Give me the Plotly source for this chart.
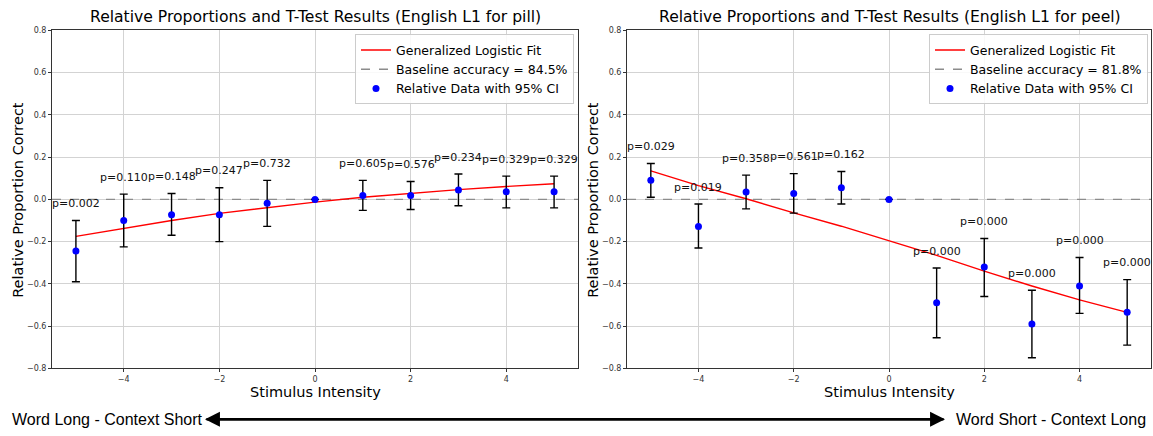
import plotly.graph_objs as go

# stimulus levels shared by both panels
stimulus = [-5, -4, -3, -2, -1, 0, 1, 2, 3, 4, 5]

# English L1 for "pill"
pill_rel = [-0.245, -0.100, -0.073, -0.073, -0.018, 0.0, 0.018, 0.018, 0.045, 0.036, 0.036]
pill_ci_low = [-0.390, -0.225, -0.170, -0.200, -0.128, None, -0.052, -0.048, -0.030, -0.040, -0.040]
pill_ci_high = [-0.100, 0.025, 0.028, 0.055, 0.090, None, 0.090, 0.085, 0.120, 0.110, 0.110]
pill_fit = [-0.175, -0.137, -0.100, -0.066, -0.038, -0.013, 0.010, 0.029, 0.046, 0.061, 0.074]
pill_p = ['0.002', '0.110', '0.148', '0.247', '0.732', None, '0.605', '0.576', '0.234', '0.329', '0.329']
pill_baseline = 84.5

# English L1 for "peel"
peel_rel = [0.090, -0.128, 0.035, 0.028, 0.055, 0.0, -0.490, -0.320, -0.590, -0.410, -0.535]
peel_ci_low = [0.010, -0.230, -0.045, -0.065, -0.022, None, -0.655, -0.460, -0.750, -0.540, -0.690]
peel_ci_high = [0.170, -0.022, 0.115, 0.122, 0.132, None, -0.325, -0.185, -0.430, -0.275, -0.380]
peel_fit = [0.135, 0.065, 0.003, -0.064, -0.127, -0.195, -0.265, -0.340, -0.410, -0.476, -0.535]
peel_p = ['0.029', '0.019', '0.358', '0.561', '0.162', None, '0.000', '0.000', '0.000', '0.000', '0.000']
peel_baseline = 81.8

x_range = [-5.5, 5.5]
y_range = [-0.8, 0.8]

FONT = 'DejaVu Sans'

W, H = 1153, 436


def px(x):
    return x / W


def py(y):
    return 1 - y / H


fig = go.Figure()
annotations = []


def add_panel(n, rel, lo, hi, fit, pvals, baseline):
    xa = 'x' if n == 1 else 'x%d' % n
    ya = 'y' if n == 1 else 'y%d' % n
    leg = 'legend' if n == 1 else 'legend%d' % n

    fig.add_trace(go.Scatter(x=x_range, y=[0, 0], mode='lines',
                             line=dict(color='#8c8c8c', width=1.3, dash='dash'),
                             name='Baseline accuracy = %.1f%%' % baseline,
                             xaxis=xa, yaxis=ya, legend=leg, legendrank=2))
    fig.add_trace(go.Scatter(x=stimulus, y=fit, mode='lines',
                             line=dict(color='red', width=1.4),
                             name='Generalized Logistic Fit',
                             xaxis=xa, yaxis=ya, legend=leg, legendrank=1))
    plus = [None if h is None else h - v for h, v in zip(hi, rel)]
    minus = [None if l is None else v - l for l, v in zip(lo, rel)]
    fig.add_trace(go.Scatter(x=stimulus, y=rel, mode='markers',
                             marker=dict(color='blue', size=7),
                             error_y=dict(type='data', symmetric=False, array=plus,
                                          arrayminus=minus, color='black',
                                          thickness=1.4, width=4),
                             name='Relative Data with 95% CI',
                             xaxis=xa, yaxis=ya, legend=leg, legendrank=3))

    for xv, h, p in zip(stimulus, hi, pvals):
        if p is None:
            continue
        annotations.append(dict(x=xv, y=h + 0.08, xref=xa, yref=ya,
                                xanchor='center', yanchor='middle',
                                text='p=' + p, showarrow=False,
                                font=dict(family=FONT, size=11, color='#111')))


add_panel(1, pill_rel, pill_ci_low, pill_ci_high, pill_fit, pill_p, pill_baseline)
add_panel(2, peel_rel, peel_ci_low, peel_ci_high, peel_fit, peel_p, peel_baseline)

dom1 = [px(52), px(578)]
dom2 = [px(627), px(1151)]
ydom = [py(372), py(27)]

axis_common = dict(showgrid=True, gridcolor='#d3d3d3', gridwidth=1,
                   showline=True, linecolor='#333', linewidth=1, mirror=True,
                   ticks='outside', ticklen=3, tickcolor='#333',
                   tickfont=dict(family=FONT, size=8, color='#333'),
                   zeroline=False)

xaxis_kw = dict(axis_common, range=x_range, tickvals=[-4, -2, 0, 2, 4])
yaxis_kw = dict(axis_common, range=y_range, dtick=0.2, tickformat='.1f')

# titles, axis labels
for left, right, word in [(52, 578, 'pill'), (627, 1152, 'peel')]:
    cx = px((left + right) / 2)
    annotations.append(dict(x=cx, y=py(13), xref='paper', yref='paper',
                            xanchor='center', yanchor='middle',
                            text='Relative Proportions and T-Test Results (English L1 for %s)' % word,
                            showarrow=False, font=dict(family=FONT, size=15.6, color='black')))
    annotations.append(dict(x=cx, y=py(396), xref='paper', yref='paper',
                            xanchor='center', yanchor='middle',
                            text='Stimulus Intensity', showarrow=False,
                            font=dict(family=FONT, size=14.5, color='black')))
    annotations.append(dict(x=px(left - 34), y=py(200), xref='paper', yref='paper',
                            xanchor='center', yanchor='middle',
                            text='Relative Proportion Correct', showarrow=False, textangle=-90,
                            font=dict(family=FONT, size=14.5, color='black')))

# bottom direction arrow
annotations.append(dict(x=px(205), y=py(424), xref='paper', yref='paper', text='',
                        showarrow=True, axref='pixel', ayref='pixel', ax=740, ay=0,
                        arrowhead=2, arrowsize=1.3, arrowwidth=2.3, arrowcolor='black'))
annotations.append(dict(x=px(945), y=py(424), xref='paper', yref='paper', text='',
                        showarrow=True, axref='pixel', ayref='pixel', ax=-740, ay=0,
                        arrowhead=2, arrowsize=1.3, arrowwidth=2.3, arrowcolor='black'))
annotations.append(dict(x=px(10), y=py(424), xref='paper', yref='paper',
                        xanchor='left', yanchor='middle',
                        text='Word Long - Context Short', showarrow=False,
                        font=dict(family='Liberation Sans', size=16, color='black')))
annotations.append(dict(x=px(1148), y=py(424), xref='paper', yref='paper',
                        xanchor='right', yanchor='middle',
                        text='Word Short - Context Long', showarrow=False,
                        font=dict(family='Liberation Sans', size=16, color='black')))

legend_kw = dict(xanchor='right', yanchor='top', y=py(31),
                 bgcolor='rgba(255,255,255,0.85)', bordercolor='#cccccc', borderwidth=1,
                 font=dict(family=FONT, size=12.5, color='black'), tracegroupgap=0)

fig.update_layout(
    width=W, height=H,
    margin=dict(l=0, r=0, t=0, b=0),
    paper_bgcolor='white', plot_bgcolor='white',
    showlegend=True,
    xaxis=dict(xaxis_kw, domain=dom1, anchor='y'),
    yaxis=dict(yaxis_kw, domain=ydom, anchor='x'),
    xaxis2=dict(xaxis_kw, domain=dom2, anchor='y2'),
    yaxis2=dict(yaxis_kw, domain=ydom, anchor='x2'),
    legend=dict(legend_kw, x=px(574)),
    legend2=dict(legend_kw, x=px(1148)),
    annotations=annotations,
)

# drop the default page margin so the figure fills the window exactly
fig.write_html("out.html", config={'displayModeBar': False},
               post_script="document.body.style.margin='0';document.body.style.overflow='hidden';")
